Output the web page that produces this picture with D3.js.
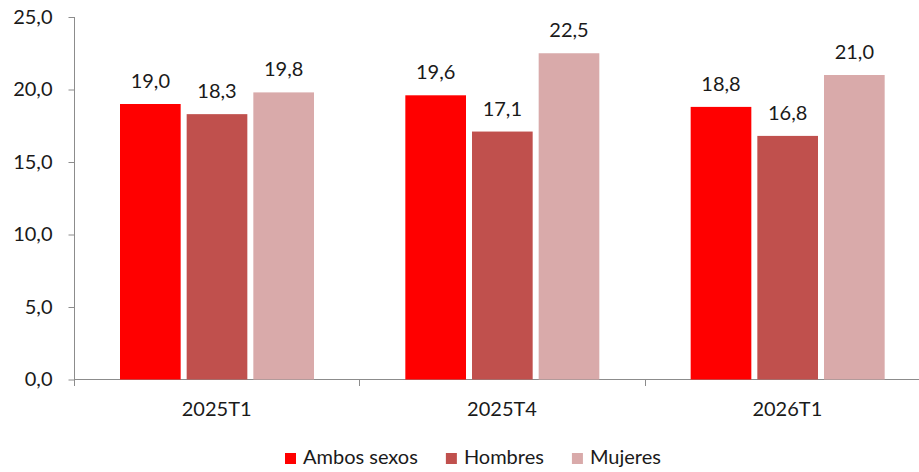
<!DOCTYPE html>
<html>
<head>
<meta charset="utf-8">
<script src="https://cdn.jsdelivr.net/npm/d3@7"></script>
<style>
  body { margin: 0; background: #fff; }
  text { font-family: Lato, "Open Sans", sans-serif; fill: #1a1a1a; }
</style>
</head>
<body>
<div id="chart"></div>
<script>
const categories = ["2025T1", "2025T4", "2026T1"];
const seriesNames = ["Ambos sexos", "Hombres", "Mujeres"];
const ambosSexos = [19.0, 19.6, 18.8];
const hombres = [18.3, 17.1, 16.8];
const mujeres = [19.8, 22.5, 21.0];
const yTicks = [0, 5, 10, 15, 20, 25];
const colors = ["#ff0000", "#c0504d", "#d9aaaa"];

const width = 919, height = 472;
const seriesValues = [ambosSexos, hombres, mujeres];

const svg = d3.select("#chart").append("svg")
  .attr("width", width)
  .attr("height", height);

const fmt = d => d.toFixed(1).replace(".", ",");

// escalas
const x = d3.scaleBand()
  .domain(categories)
  .range([74, 930])
  .paddingInner(0)
  .paddingOuter(0);

const xInner = d3.scaleBand()
  .domain(seriesNames)
  .range([46, 240])
  .paddingInner(0.09);

const y = d3.scaleLinear()
  .domain([0, 25])
  .range([379.5, 17]);

// eje y
const yAxis = svg.append("g")
  .attr("transform", "translate(74.5,0)")
  .call(d3.axisLeft(y).tickValues(yTicks).tickSize(6).tickPadding(16).tickFormat(fmt));
yAxis.select(".domain").attr("stroke", "#8c8c8c").attr("d", "M0,17V386");
yAxis.selectAll(".tick line").attr("stroke", "#8c8c8c");
yAxis.selectAll(".tick text").style("font-size", "20px").attr("fill", "#1a1a1a");

// eje x
const boundaries = categories.map(c => x(c)).concat([x.range()[1]]);
svg.append("line")
  .attr("x1", 74).attr("x2", 930)
  .attr("y1", 379.5).attr("y2", 379.5)
  .attr("stroke", "#8c8c8c");
svg.selectAll("line.xtick")
  .data(boundaries.slice(1))
  .enter()
  .append("line")
  .attr("class", "xtick")
  .attr("x1", d => Math.round(d) + 0.5)
  .attr("x2", d => Math.round(d) + 0.5)
  .attr("y1", 379.5).attr("y2", 386)
  .attr("stroke", "#8c8c8c");

svg.selectAll("text.cat")
  .data(categories)
  .enter()
  .append("text")
  .attr("class", "cat")
  .attr("x", d => x(d) + x.bandwidth() / 2)
  .attr("y", 416)
  .attr("text-anchor", "middle")
  .style("font-size", "20px")
  .text(d => d);

// barras
const groups = svg.selectAll("g.grp")
  .data(categories)
  .enter()
  .append("g")
  .attr("class", "grp")
  .attr("transform", d => `translate(${x(d)},0)`);

groups.each(function (cat, ci) {
  const g = d3.select(this);
  const rows = seriesNames.map((s, si) => ({ s, si, v: seriesValues[si][ci] }));

  g.selectAll("rect")
    .data(rows)
    .enter()
    .append("rect")
    .attr("x", d => xInner(d.s))
    .attr("y", d => y(d.v))
    .attr("width", xInner.bandwidth())
    .attr("height", d => y(0) - y(d.v))
    .attr("fill", d => colors[d.si]);

  g.selectAll("text")
    .data(rows)
    .enter()
    .append("text")
    .attr("x", d => xInner(d.s) + xInner.bandwidth() / 2)
    .attr("y", d => y(d.v) - 16)
    .attr("text-anchor", "middle")
    .style("font-size", "20px")
    .text(d => fmt(d.v));
});

// leyenda
const legend = svg.append("g").attr("transform", "translate(285,0)");
let lx = 0;
seriesNames.forEach((name, i) => {
  const item = legend.append("g").attr("transform", `translate(${lx},0)`);
  item.append("rect")
    .attr("x", 0).attr("y", 453)
    .attr("width", 11).attr("height", 11)
    .attr("fill", colors[i]);
  const t = item.append("text")
    .attr("x", 18).attr("y", 464)
    .style("font-size", "20px")
    .text(name);
  lx += 18 + t.node().getComputedTextLength() + 28;
});
</script>
</body>
</html>
